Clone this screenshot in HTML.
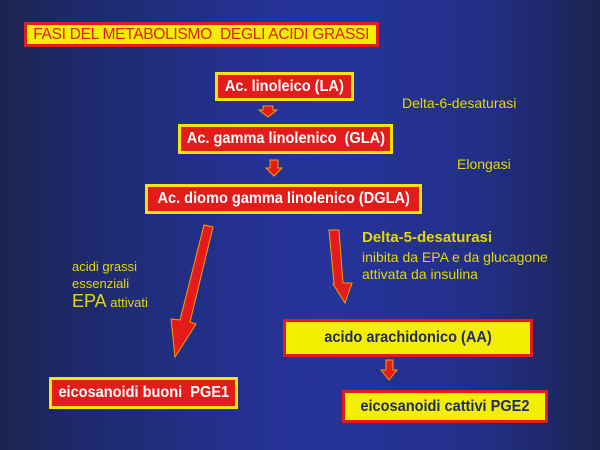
<!DOCTYPE html>
<html><head><meta charset="utf-8"><style>
html,body{margin:0;padding:0}
body{width:600px;height:450px;position:relative;overflow:hidden;font-family:"Liberation Sans",sans-serif;
background:linear-gradient(to right,#1b2450 0%,#1e2a6e 15%,#243190 40%,#26339a 55%,#222f88 80%,#1b2450 100%);}
.b{position:absolute;box-sizing:border-box;display:flex;align-items:center;justify-content:center;font-weight:bold;white-space:nowrap}
.b span{display:inline-block;transform:scaleX(.91)}
.r{background:#e41b1b;border:3px solid #f4e600;color:#fff}
.y{background:#f4ee00;border:3px solid #e41b1b;color:#1f2a6a}
.t{position:absolute;color:#e4d800;white-space:nowrap;font-size:13px;line-height:15px}
</style></head><body>
<div class="b y" style="left:24px;top:22px;width:355px;height:25px;color:#e41b1b;font-size:16px;font-weight:normal;letter-spacing:-0.3px"><span style="transform:scaleX(.97)">FASI DEL METABOLISMO&nbsp; DEGLI ACIDI GRASSI</span></div>
<div class="b r" style="left:215px;top:72px;width:139px;height:29px;font-size:16px"><span>Ac. linoleico (LA)</span></div>
<div class="b r" style="left:178px;top:124px;width:215px;height:30px;font-size:16px"><span>Ac. gamma linolenico&nbsp; (GLA)</span></div>
<div class="b r" style="left:145px;top:184px;width:277px;height:30px;font-size:16px"><span>Ac. diomo gamma linolenico (DGLA)</span></div>
<div class="b y" style="left:283px;top:319px;width:250px;height:38px;font-size:16px"><span>acido arachidonico (AA)</span></div>
<div class="b r" style="left:49px;top:377px;width:189px;height:32px;font-size:16px"><span>eicosanoidi buoni&nbsp; PGE1</span></div>
<div class="b y" style="left:342px;top:390px;width:206px;height:33px;font-size:16px"><span>eicosanoidi cattivi PGE2</span></div>
<div class="t" style="left:402px;top:96px;font-size:14px">Delta-6-desaturasi</div>
<div class="t" style="left:457px;top:157px;font-size:14px">Elongasi</div>
<div class="t" style="left:362px;top:230px;font-size:15px;font-weight:bold">Delta-5-desaturasi</div>
<div class="t" style="left:362px;top:250px;font-size:14px">inibita da EPA e da glucagone</div>
<div class="t" style="left:362px;top:267px;font-size:14px">attivata da insulina</div>
<div class="t" style="left:72px;top:259px">acidi grassi</div>
<div class="t" style="left:72px;top:276px">essenziali</div>
<div class="t" style="left:72px;top:294px"><span style="font-size:18px">EPA</span> attivati</div>
<svg width="600" height="450" style="position:absolute;left:0;top:0">
<g fill="#e41b1b" stroke="#f0a000" stroke-width="1">
<polygon points="263,106 273,106 273,110 277,110 268,117 259,110 263,110"/>
<polygon points="270,160 278,160 278,168 282,168 274,176 266,168 270,168"/>
<polygon points="386,360 393,360 393,370 397,370 389,380 381,370 386,370"/>
<polygon points="204,225 213,227 190,322 196,324 175,357 171,319 180,320"/>
<polygon points="329,230 339,230 343,283 352,283 345,303 333,284 334,284"/>
</g>
</svg>
</body></html>
